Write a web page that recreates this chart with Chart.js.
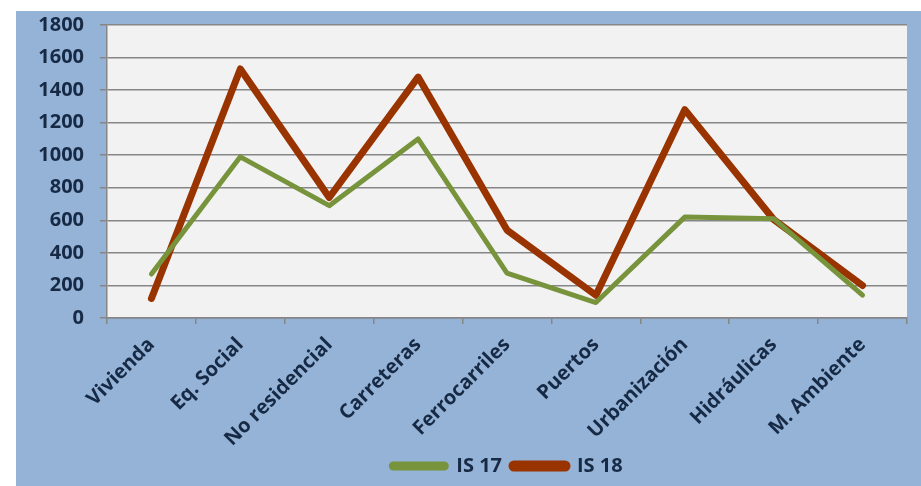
<!DOCTYPE html>
<html>
<head>
<meta charset="utf-8">
<script src="https://cdn.jsdelivr.net/npm/chart.js@4"></script>
<style>
  body { margin: 0; background: #ffffff; }
  #frame {
    position: absolute; left: 16px; top: 11px;
    width: 905px; height: 475px;
    background: #95b3d7;
  }
</style>
</head>
<body>
<div id="frame"><canvas id="chart" width="905" height="475"></canvas></div>
<script>
  // categories and values
  const categories = [
    "Vivienda", "Eq. Social", "No residencial", "Carreteras", "Ferrocarriles",
    "Puertos", "Urbanización", "Hidráulicas", "M. Ambiente"
  ];
  const is17 = [270, 990, 690, 1100, 275, 95, 620, 610, 140];
  const is18 = [120, 1530, 740, 1480, 540, 140, 1280, 605, 200];
  const yMin = 0, yMax = 1800, yStep = 200;

  const textColor = "#172a45";
  const gridColor = "#868686";
  const font = { family: "'Open Sans', sans-serif", weight: "bold", size: 20 };

  // light gray plot background
  const plotBg = {
    id: "plotBg",
    beforeDraw(chart) {
      const a = chart.chartArea, ctx = chart.ctx;
      ctx.save();
      ctx.fillStyle = "#f2f2f2";
      ctx.fillRect(a.left, a.top, a.right - a.left, a.bottom - a.top);
      ctx.restore();
    }
  };

  new Chart(document.getElementById("chart"), {
    type: "line",
    data: {
      labels: categories,
      datasets: [
        {
          label: "IS 17",
          data: is17,
          borderColor: "#77933c",
          backgroundColor: "#77933c",
          borderWidth: 5
        },
        {
          label: "IS 18",
          data: is18,
          borderColor: "#993300",
          backgroundColor: "#993300",
          borderWidth: 7
        }
      ]
    },
    options: {
      responsive: false,
      animation: false,
      devicePixelRatio: 1,
      elements: {
        point: { radius: 0 },
        line: { tension: 0, borderCapStyle: "round", borderJoinStyle: "round" }
      },
      layout: { padding: { left: 0, right: 14, top: 0, bottom: 0 } },
      scales: {
        x: {
          offset: true,
          afterFit(scale) { scale.height = 128; },
          grid: { offset: true, drawOnChartArea: false, color: gridColor, lineWidth: 1.5, tickLength: 6 },
          border: { color: gridColor, width: 1.5 },
          ticks: { color: textColor, font: font, minRotation: 45, maxRotation: 45, padding: 9 }
        },
        y: {
          min: yMin,
          max: yMax,
          afterFit(scale) {
            scale.width = 91;
            scale.paddingTop = 14;
            scale.paddingBottom = 12;
          },
          grid: { color: gridColor, lineWidth: 1.5, tickLength: 7 },
          border: { color: gridColor, width: 1.5 },
          ticks: {
            color: textColor, font: font, stepSize: yStep, padding: 16,
            callback: (v) => String(v)
          }
        }
      },
      plugins: {
        legend: {
          position: "bottom",
          fullSize: false,
          labels: {
            color: textColor,
            font: font,
            boxWidth: 55,
            boxHeight: 4,
            useBorderRadius: true,
            borderRadius: 2,
            padding: 10
          }
        },
        tooltip: { enabled: false }
      }
    },
    plugins: [plotBg]
  });
</script>
</body>
</html>
